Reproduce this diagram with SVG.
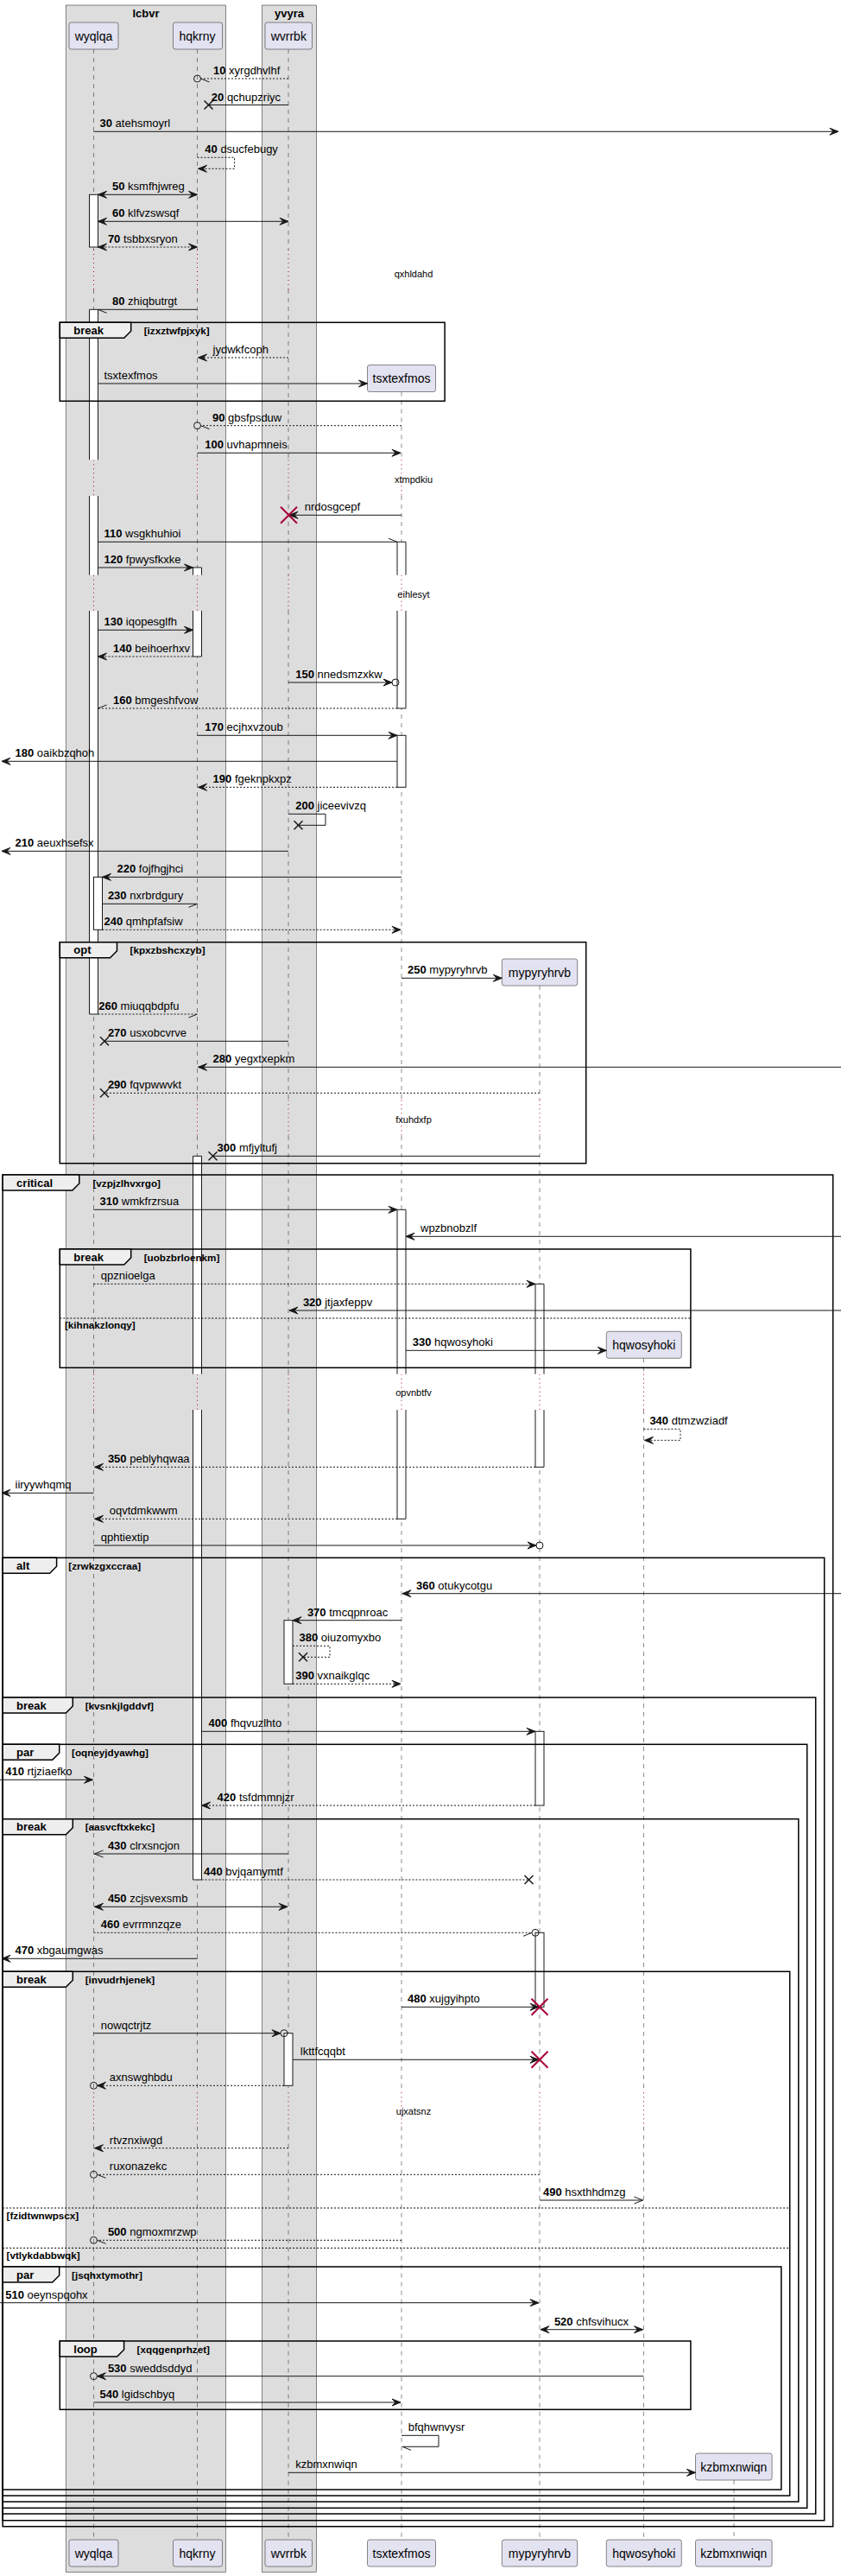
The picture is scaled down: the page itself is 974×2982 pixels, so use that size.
<svg xmlns="http://www.w3.org/2000/svg" width="974" height="2982" viewBox="0 0 974 2982">
<style>
.gb{fill:#DDDDDD;stroke:#181818;stroke-width:0.5}
.bt{font-family:"Liberation Sans",Arial,sans-serif;font-size:13px;font-weight:bold;text-anchor:middle;fill:#000}
.pb{fill:#E2E2F0;stroke:#181818;stroke-width:0.5}
.pn{font-family:"Liberation Sans",Arial,sans-serif;font-size:14px;text-anchor:middle;fill:#000}
.ll{fill:none;stroke:#181818;stroke-width:0.5;stroke-dasharray:5 5}
.dl{fill:none;stroke:#A80036;stroke-width:1;stroke-dasharray:1 4}
.dtx{font-family:"Liberation Sans",Arial,sans-serif;font-size:11px;text-anchor:middle;fill:#000}
.act{fill:#fff;stroke:#181818;stroke-width:1}
.actf{fill:#fff;stroke:none}
.acte{fill:none;stroke:#181818;stroke-width:1}
.fr{fill:none;stroke:#000;stroke-width:1.5}
.tab{fill:#EEEEEE;stroke:#000;stroke-width:1.5}
.tl{font-family:"Liberation Sans",Arial,sans-serif;font-size:13px;font-weight:bold;fill:#000}
.gl{font-family:"Liberation Sans",Arial,sans-serif;font-size:11.7px;font-weight:bold;fill:#000}
.els{stroke:#000;stroke-width:1;stroke-dasharray:2 2}
.ln{fill:none;stroke:#181818;stroke-width:1}
.dt{stroke-dasharray:2 2}
.m{font-family:"Liberation Sans",Arial,sans-serif;font-size:13px;fill:#000}
.n{font-weight:bold}
.x{stroke:#181818;stroke-width:1.5;fill:none}
.rx{stroke:#A80036;stroke-width:2;fill:none}
.cir{fill:none;stroke:#181818;stroke-width:1}
</style>
<defs>
<marker id="af" markerUnits="userSpaceOnUse" orient="auto-start-reverse" overflow="visible" markerWidth="1" markerHeight="1" refX="0" refY="0"><path d="M-10,-4 L0,0 L-10,4 L-6,0 Z" fill="#181818" stroke="#181818" stroke-width="1"/></marker>
<marker id="ao" markerUnits="userSpaceOnUse" orient="auto-start-reverse" overflow="visible" markerWidth="1" markerHeight="1" refX="0" refY="0"><path d="M-10,-4 L0,0 L-10,4" fill="none" stroke="#181818" stroke-width="1"/></marker>
<marker id="hA" markerUnits="userSpaceOnUse" orient="auto" overflow="visible" markerWidth="1" markerHeight="1" refX="0" refY="0"><path d="M-10,-4 L0,0" fill="none" stroke="#181818" stroke-width="1"/></marker>
<marker id="hB" markerUnits="userSpaceOnUse" orient="auto" overflow="visible" markerWidth="1" markerHeight="1" refX="0" refY="0"><path d="M-10,4 L0,0" fill="none" stroke="#181818" stroke-width="1"/></marker>
</defs>
<rect width="974" height="2982" fill="#fff"/>
<g id="box-lcbvr"><rect class="gb" x="76.2" y="6" width="185.4" height="2971.7"/><text class="bt" x="169" y="20">lcbvr</text></g>
<g id="box-yvyra"><rect class="gb" x="303.5" y="6" width="63" height="2971.7"/><text class="bt" x="335" y="20">yvyra</text></g>

<g id="lifelines">
<path class="ll" d="M108.5,57V289M108.5,335V532.3M108.5,574V665.7M108.5,707V1273.3M108.5,1315V1590.7M108.5,1632V2422.3M108.5,2461.7V2940"/>
<path class="ll" d="M228.5,57V289M228.5,335V532.3M228.5,574V665.7M228.5,707V1273.3M228.5,1315V1590.7M228.5,1632V2422.3M228.5,2461.7V2940"/>
<path class="ll" d="M334,57V289M334,335V532.3M334,574V665.7M334,707V1273.3M334,1315V1590.7M334,1632V2422.3M334,2461.7V2940"/>
<path class="ll" d="M465,453.5V532.3M465,574V665.7M465,707V1273.3M465,1315V1590.7M465,1632V2422.3M465,2461.7V2940"/>
<path class="ll" d="M625,1141V1273.3M625,1315V1590.7M625,1632V2422.3M625,2461.7V2940"/>
<path class="ll" d="M745.5,1572.3V1590.7M745.5,1632V2422.3M745.5,2461.7V2940"/>
<path class="ll" d="M850,2871V2940"/>
<path class="dl" d="M108.5,289V335M108.5,532.3V574M108.5,665.7V707M108.5,1273.3V1315M108.5,1590.7V1632M108.5,2422.3V2461.7"/>
<path class="dl" d="M228.5,289V335M228.5,532.3V574M228.5,665.7V707M228.5,1273.3V1315M228.5,1590.7V1632M228.5,2422.3V2461.7"/>
<path class="dl" d="M334,289V335M334,532.3V574M334,665.7V707M334,1273.3V1315M334,1590.7V1632M334,2422.3V2461.7"/>
<path class="dl" d="M465,532.3V574M465,665.7V707M465,1273.3V1315M465,1590.7V1632M465,2422.3V2461.7"/>
<path class="dl" d="M625,1273.3V1315M625,1590.7V1632M625,2422.3V2461.7"/>
<path class="dl" d="M745.5,1590.7V1632M745.5,2422.3V2461.7"/>
</g>

<g id="delays">
<text class="dtx" x="479" y="320.5">qxhldahd</text>
<text class="dtx" x="479" y="558.5">xtmpdkiu</text>
<text class="dtx" x="479" y="691.7">eihlesyt</text>
<text class="dtx" x="479" y="1299.7">fxuhdxfp</text>
<text class="dtx" x="479" y="1616.3">opvnbtfv</text>
<text class="dtx" x="479" y="2448.3">ujxatsnz</text>
</g>

<g id="activations">
<rect class="act" x="103.5" y="225.3" width="10" height="60.7"/>
<rect class="actf" x="103.5" y="358.3" width="10" height="174"/><path class="acte" d="M103.5,532.3V358.3H113.5V532.3"/>
<rect class="actf" x="103.5" y="574" width="10" height="91.7"/><path class="acte" d="M103.5,574V665.7M113.5,574V665.7"/>
<rect class="actf" x="103.5" y="707" width="10" height="467"/><path class="acte" d="M103.5,707V1174H113.5V707"/>
<rect class="act" x="108.5" y="1015.3" width="10" height="61"/>
<rect class="actf" x="223.5" y="657" width="10" height="8.7"/><path class="acte" d="M223.5,665.7V657H233.5V665.7"/>
<rect class="actf" x="223.5" y="707" width="10" height="53"/><path class="acte" d="M223.5,707V760H233.5V707"/>
<rect class="actf" x="223.5" y="1338.3" width="10" height="252.4"/><path class="acte" d="M223.5,1590.7V1338.3H233.5V1590.7"/>
<rect class="actf" x="223.5" y="1632" width="10" height="544"/><path class="acte" d="M223.5,1632V2176H233.5V1632"/>
<rect class="act" x="329" y="1875.7" width="10" height="73.6"/>
<rect class="act" x="329" y="2353.7" width="10" height="60.6"/>
<rect class="actf" x="460" y="627.3" width="10" height="38.4"/><path class="acte" d="M460,665.7V627.3H470V665.7"/>
<rect class="actf" x="460" y="707" width="10" height="113"/><path class="acte" d="M460,707V820H470V707"/>
<rect class="act" x="460" y="851.3" width="10" height="60"/>
<rect class="actf" x="460" y="1400.3" width="10" height="190.4"/><path class="acte" d="M460,1590.7V1400.3H470V1590.7"/>
<rect class="actf" x="460" y="1632" width="10" height="126.3"/><path class="acte" d="M460,1632V1758.3H470V1632"/>
<rect class="actf" x="620" y="1486.3" width="10" height="104.4"/><path class="acte" d="M620,1590.7V1486.3H630V1590.7"/>
<rect class="actf" x="620" y="1632" width="10" height="66.3"/><path class="acte" d="M620,1632V1698.3H630V1632"/>
<rect class="act" x="620" y="2004.3" width="10" height="85.7"/>
<rect class="act" x="620" y="2237.3" width="10" height="86"/>
</g>

<g id="f-break-izxztwfpjxyk"><rect class="fr" x="69.3" y="373.3" width="445.8" height="91"/><polygon class="tab" points="69.3,373.3 151.7,373.3 151.7,383.3 143.7,391.3 69.3,391.3"/><text class="tl" x="85.3" y="387">break</text><text class="gl" x="166.7" y="387">[izxztwfpjxyk]</text></g>
<g id="f-opt-kpxzbshcxzyb"><rect class="fr" x="69.3" y="1090.7" width="609.4" height="256"/><polygon class="tab" points="69.3,1090.7 135.5,1090.7 135.5,1100.7 127.5,1108.7 69.3,1108.7"/><text class="tl" x="85.3" y="1104.4">opt</text><text class="gl" x="150.5" y="1104.4">[kpxzbshcxzyb]</text></g>
<g id="f-critical-vzpjzlhvxrgo"><rect class="fr" x="3.1" y="1360" width="961.6" height="1564.7"/><polygon class="tab" points="3.1,1360 91.8,1360 91.8,1370 83.8,1378 3.1,1378"/><text class="tl" x="19.1" y="1373.7">critical</text><text class="gl" x="107.4" y="1373.7">[vzpjzlhvxrgo]</text></g>
<g id="f-break-uobzbrloenkm"><rect class="fr" x="69.3" y="1446" width="730.6" height="137.3"/><polygon class="tab" points="69.3,1446 151.7,1446 151.7,1456 143.7,1464 69.3,1464"/><text class="tl" x="85.3" y="1459.7">break</text><text class="gl" x="166.7" y="1459.7">[uobzbrloenkm]</text><line class="els" x1="69.3" y1="1526" x2="799.9" y2="1526"/><text class="gl" x="74.9" y="1538">[kihnakzlonqy]</text></g>
<g id="f-alt-zrwkzgxccraa"><rect class="fr" x="3.1" y="1803.3" width="951.6" height="1114.4"/><polygon class="tab" points="3.1,1803.3 65.6,1803.3 65.6,1813.3 57.6,1821.3 3.1,1821.3"/><text class="tl" x="19.1" y="1817">alt</text><text class="gl" x="79.3" y="1817">[zrwkzgxccraa]</text></g>
<g id="f-break-kvsnkjlgddvf"><rect class="fr" x="3.1" y="1965" width="941.6" height="945"/><polygon class="tab" points="3.1,1965 84.3,1965 84.3,1975 76.3,1983 3.1,1983"/><text class="tl" x="19.1" y="1978.7">break</text><text class="gl" x="98.7" y="1978.7">[kvsnkjlgddvf]</text></g>
<g id="f-par-oqneyjdyawhg"><rect class="fr" x="3.1" y="2019.3" width="931.6" height="884"/><polygon class="tab" points="3.1,2019.3 68.7,2019.3 68.7,2029.3 60.7,2037.3 3.1,2037.3"/><text class="tl" x="19.1" y="2033">par</text><text class="gl" x="83" y="2033">[oqneyjdyawhg]</text></g>
<g id="f-break-aasvcftxkekc"><rect class="fr" x="3.1" y="2105.7" width="921.7" height="790.3"/><polygon class="tab" points="3.1,2105.7 84.3,2105.7 84.3,2115.7 76.3,2123.7 3.1,2123.7"/><text class="tl" x="19.1" y="2119.4">break</text><text class="gl" x="98.7" y="2119.4">[aasvcftxkekc]</text></g>
<g id="f-break-invudrhjenek"><rect class="fr" x="3.1" y="2282.3" width="911.6" height="606.7"/><polygon class="tab" points="3.1,2282.3 84.3,2282.3 84.3,2292.3 76.3,2300.3 3.1,2300.3"/><text class="tl" x="19.1" y="2296">break</text><text class="gl" x="98.7" y="2296">[invudrhjenek]</text><line class="els" x1="3.1" y1="2556" x2="914.7" y2="2556"/><text class="gl" x="7.5" y="2569">[fzidtwnwpscx]</text><line class="els" x1="3.1" y1="2602.3" x2="914.7" y2="2602.3"/><text class="gl" x="7.5" y="2615">[vtlykdabbwqk]</text></g>
<g id="f-par-jsqhxtymothr"><rect class="fr" x="3.1" y="2624" width="901.7" height="258"/><polygon class="tab" points="3.1,2624 68.7,2624 68.7,2634 60.7,2642 3.1,2642"/><text class="tl" x="19.1" y="2637.7">par</text><text class="gl" x="83" y="2637.7">[jsqhxtymothr]</text></g>
<g id="f-loop-xqqgenprhzet"><rect class="fr" x="69.3" y="2710" width="730.6" height="79.3"/><polygon class="tab" points="69.3,2710 143.6,2710 143.6,2720 135.6,2728 69.3,2728"/><text class="tl" x="85.3" y="2723.7">loop</text><text class="gl" x="158.6" y="2723.7">[xqqgenprhzet]</text></g>

<g id="p-wyqlqa"><rect class="pb" x="80" y="26" width="57" height="31" rx="2.5"/><text class="pn" x="108.5" y="46.5">wyqlqa</text><rect class="pb" x="80" y="2940" width="57" height="31" rx="2.5"/><text class="pn" x="108.5" y="2960.5">wyqlqa</text></g>
<g id="p-hqkrny"><rect class="pb" x="200.5" y="26" width="57" height="31" rx="2.5"/><text class="pn" x="228.5" y="46.5">hqkrny</text><rect class="pb" x="200.5" y="2940" width="57" height="31" rx="2.5"/><text class="pn" x="228.5" y="2960.5">hqkrny</text></g>
<g id="p-wvrrbk"><rect class="pb" x="307" y="26" width="54.5" height="31" rx="2.5"/><text class="pn" x="334.3" y="46.5">wvrrbk</text><rect class="pb" x="307" y="2940" width="54.5" height="31" rx="2.5"/><text class="pn" x="334.3" y="2960.5">wvrrbk</text></g>
<g id="p-tsxtexfmos"><rect class="pb" x="425.5" y="422.5" width="79" height="31" rx="2.5"/><text class="pn" x="465" y="443">tsxtexfmos</text><rect class="pb" x="425.5" y="2940" width="79" height="31" rx="2.5"/><text class="pn" x="465" y="2960.5">tsxtexfmos</text></g>
<g id="p-mypyryhrvb"><rect class="pb" x="581.3" y="1110" width="87.4" height="31" rx="2.5"/><text class="pn" x="625" y="1130.5">mypyryhrvb</text><rect class="pb" x="581.3" y="2940" width="87.4" height="31" rx="2.5"/><text class="pn" x="625" y="2960.5">mypyryhrvb</text></g>
<g id="p-hqwosyhoki"><rect class="pb" x="702.3" y="1541.3" width="87" height="31" rx="2.5"/><text class="pn" x="745.8" y="1561.8">hqwosyhoki</text><rect class="pb" x="702.3" y="2940" width="87" height="31" rx="2.5"/><text class="pn" x="745.8" y="2960.5">hqwosyhoki</text></g>
<g id="p-kzbmxnwiqn"><rect class="pb" x="805.5" y="2840" width="88.6" height="31" rx="2.5"/><text class="pn" x="849.8" y="2860.5">kzbmxnwiqn</text><rect class="pb" x="805.5" y="2940" width="88.6" height="31" rx="2.5"/><text class="pn" x="849.8" y="2960.5">kzbmxnwiqn</text></g>

<g id="connectors">
<line class="ln dt" x1="334" y1="91" x2="232.5" y2="91" marker-end="url(#hA)"/><circle class="cir" cx="228.5" cy="91" r="4"/>
<text class="m" x="247" y="86"><tspan class="n">10</tspan> xyrgdhvlhf</text>
<line class="ln" x1="334" y1="121.5" x2="241.5" y2="121.5"/><path class="x" d="M236.5,116.5L246.5,126.5M236.5,126.5L246.5,116.5"/>
<text class="m" x="244.8" y="116.5"><tspan class="n">20</tspan> qchupzriyc</text>
<line class="ln" x1="108.5" y1="152.3" x2="971" y2="152.3" marker-end="url(#af)"/>
<text class="m" x="115.5" y="147.3"><tspan class="n">30</tspan> atehsmoyrl</text>
<polyline class="ln dt" points="228.5,182.3 271.5,182.3 271.5,195.3 229.5,195.3" marker-end="url(#af)"/>
<text class="m" x="237.3" y="177.3"><tspan class="n">40</tspan> dsucfebugy</text>
<line class="ln" x1="113.5" y1="225.3" x2="228.5" y2="225.3" marker-start="url(#af)" marker-end="url(#af)"/>
<text class="m" x="130" y="220.3"><tspan class="n">50</tspan> ksmfhjwreg</text>
<line class="ln" x1="113.5" y1="256.3" x2="334" y2="256.3" marker-start="url(#af)" marker-end="url(#af)"/>
<text class="m" x="130" y="251.3"><tspan class="n">60</tspan> klfvzswsqf</text>
<line class="ln dt" x1="113.5" y1="286" x2="228.5" y2="286" marker-start="url(#af)" marker-end="url(#af)"/>
<text class="m" x="124.9" y="281"><tspan class="n">70</tspan> tsbbxsryon</text>
<line class="ln" x1="228.5" y1="358.3" x2="113.5" y2="358.3" marker-end="url(#hA)"/>
<text class="m" x="130" y="353.3"><tspan class="n">80</tspan> zhiqbutrgt</text>
<line class="ln dt" x1="334" y1="414" x2="229.5" y2="414" marker-end="url(#af)"/>
<text class="m" x="246.6" y="409">jydwkfcoph</text>
<line class="ln" x1="113.5" y1="444" x2="425.5" y2="444" marker-end="url(#af)"/>
<text class="m" x="120.5" y="439">tsxtexfmos</text>
<line class="ln dt" x1="465" y1="492.7" x2="232.5" y2="492.7" marker-end="url(#hA)"/><circle class="cir" cx="228.5" cy="492.7" r="4"/>
<text class="m" x="246" y="487.7"><tspan class="n">90</tspan> gbsfpsduw</text>
<line class="ln" x1="228.5" y1="524.3" x2="464" y2="524.3" marker-end="url(#af)"/>
<text class="m" x="237.3" y="519.3"><tspan class="n">100</tspan> uvhapmneis</text>
<line class="ln" x1="465" y1="596.3" x2="335" y2="596.3" marker-end="url(#af)"/><path class="rx" d="M325,586.8L344,605.8M325,605.8L344,586.8"/>
<text class="m" x="352.8" y="591.3">nrdosgcepf</text>
<line class="ln" x1="113.5" y1="627.3" x2="460" y2="627.3" marker-end="url(#hA)"/>
<text class="m" x="120.5" y="622.3"><tspan class="n">110</tspan> wsgkhuhioi</text>
<line class="ln" x1="113.5" y1="657" x2="223.5" y2="657" marker-end="url(#af)"/>
<text class="m" x="120.5" y="652"><tspan class="n">120</tspan> fpwysfkxke</text>
<line class="ln" x1="113.5" y1="729.3" x2="223.5" y2="729.3" marker-end="url(#af)"/>
<text class="m" x="120.5" y="724.3"><tspan class="n">130</tspan> iqopesglfh</text>
<line class="ln dt" x1="223.5" y1="760" x2="113.5" y2="760" marker-end="url(#af)"/>
<text class="m" x="131" y="755"><tspan class="n">140</tspan> beihoerhxv</text>
<line class="ln" x1="334" y1="790" x2="454" y2="790" marker-end="url(#af)"/><circle class="cir" cx="458" cy="790" r="4"/>
<text class="m" x="342.2" y="785"><tspan class="n">150</tspan> nnedsmzxkw</text>
<line class="ln dt" x1="460" y1="820" x2="113.5" y2="820" marker-end="url(#hB)"/>
<text class="m" x="131" y="815"><tspan class="n">160</tspan> bmgeshfvow</text>
<line class="ln" x1="228.5" y1="851.3" x2="460" y2="851.3" marker-end="url(#af)"/>
<text class="m" x="237.3" y="846.3"><tspan class="n">170</tspan> ecjhxvzoub</text>
<line class="ln" x1="460" y1="881.3" x2="2" y2="881.3" marker-end="url(#af)"/>
<text class="m" x="17.5" y="876.3"><tspan class="n">180</tspan> oaikbzqhoh</text>
<line class="ln dt" x1="460" y1="911.3" x2="229.5" y2="911.3" marker-end="url(#af)"/>
<text class="m" x="246.6" y="906.3"><tspan class="n">190</tspan> fgeknpkxpz</text>
<polyline class="ln" points="334,942.3 377,942.3 377,955.3 345.5,955.3"/><path class="x" d="M340.5,950.3L350.5,960.3M340.5,960.3L350.5,950.3"/>
<text class="m" x="342.2" y="937.3"><tspan class="n">200</tspan> jiceevivzq</text>
<line class="ln" x1="334" y1="985.3" x2="2" y2="985.3" marker-end="url(#af)"/>
<text class="m" x="17.5" y="980.3"><tspan class="n">210</tspan> aeuxhsefsx</text>
<line class="ln" x1="465" y1="1015.3" x2="118.5" y2="1015.3" marker-end="url(#af)"/>
<text class="m" x="135.5" y="1010.3"><tspan class="n">220</tspan> fojfhgjhci</text>
<line class="ln" x1="118.5" y1="1046.3" x2="228.5" y2="1046.3" marker-end="url(#hB)"/>
<text class="m" x="124.9" y="1041.3"><tspan class="n">230</tspan> nxrbrdgury</text>
<line class="ln dt" x1="118.5" y1="1076.3" x2="464" y2="1076.3" marker-end="url(#af)"/>
<text class="m" x="120.5" y="1071.3"><tspan class="n">240</tspan> qmhpfafsiw</text>
<line class="ln" x1="465" y1="1132.3" x2="581.3" y2="1132.3" marker-end="url(#af)"/>
<text class="m" x="472" y="1127.3"><tspan class="n">250</tspan> mypyryhrvb</text>
<line class="ln dt" x1="113.5" y1="1174" x2="228.5" y2="1174" marker-end="url(#hB)"/>
<text class="m" x="114.3" y="1169"><tspan class="n">260</tspan> miuqqbdpfu</text>
<line class="ln" x1="334" y1="1205.3" x2="121" y2="1205.3"/><path class="x" d="M116,1200.3L126,1210.3M116,1210.3L126,1200.3"/>
<text class="m" x="124.9" y="1200.3"><tspan class="n">270</tspan> usxobcvrve</text>
<line class="ln" x1="974" y1="1235.3" x2="229.5" y2="1235.3" marker-end="url(#af)"/>
<text class="m" x="246.6" y="1230.3"><tspan class="n">280</tspan> yegxtxepkm</text>
<line class="ln dt" x1="625" y1="1265.3" x2="121" y2="1265.3"/><path class="x" d="M116,1260.3L126,1270.3M116,1270.3L126,1260.3"/>
<text class="m" x="124.9" y="1260.3"><tspan class="n">290</tspan> fqvpwwvkt</text>
<line class="ln" x1="625" y1="1338.3" x2="246.5" y2="1338.3"/><path class="x" d="M241.5,1333.3L251.5,1343.3M241.5,1343.3L251.5,1333.3"/>
<text class="m" x="251.6" y="1333.3"><tspan class="n">300</tspan> mfjyltufj</text>
<line class="ln" x1="108.5" y1="1400.3" x2="460" y2="1400.3" marker-end="url(#af)"/>
<text class="m" x="115.5" y="1395.3"><tspan class="n">310</tspan> wmkfrzrsua</text>
<line class="ln" x1="974" y1="1431.3" x2="470" y2="1431.3" marker-end="url(#af)"/>
<text class="m" x="487" y="1426.3">wpzbnobzlf</text>
<line class="ln dt" x1="108.5" y1="1486.3" x2="620" y2="1486.3" marker-end="url(#af)"/>
<text class="m" x="116.8" y="1481.3">qpznioelga</text>
<line class="ln" x1="974" y1="1517" x2="335" y2="1517" marker-end="url(#af)"/>
<text class="m" x="350.9" y="1512"><tspan class="n">320</tspan> jtjaxfeppv</text>
<line class="ln" x1="470" y1="1563.3" x2="702.3" y2="1563.3" marker-end="url(#af)"/>
<text class="m" x="477.7" y="1558.3"><tspan class="n">330</tspan> hqwosyhoki</text>
<polyline class="ln dt" points="745.5,1654.3 788,1654.3 788,1667.3 746.5,1667.3" marker-end="url(#af)"/>
<text class="m" x="752.4" y="1649.3"><tspan class="n">340</tspan> dtmzwziadf</text>
<line class="ln dt" x1="620" y1="1698.3" x2="109.5" y2="1698.3" marker-end="url(#af)"/>
<text class="m" x="124.9" y="1693.3"><tspan class="n">350</tspan> peblyhqwaa</text>
<line class="ln" x1="108.5" y1="1728.3" x2="2" y2="1728.3" marker-end="url(#af)"/>
<text class="m" x="17.5" y="1723.3">iiryywhqmq</text>
<line class="ln dt" x1="460" y1="1758.3" x2="109.5" y2="1758.3" marker-end="url(#af)"/>
<text class="m" x="126.8" y="1753.3">oqvtdmkwwm</text>
<line class="ln" x1="108.5" y1="1789" x2="621" y2="1789" marker-end="url(#af)"/><circle class="cir" cx="625" cy="1789" r="4"/>
<text class="m" x="116.8" y="1784">qphtiextip</text>
<line class="ln" x1="974" y1="1844.7" x2="466" y2="1844.7" marker-end="url(#af)"/>
<text class="m" x="482" y="1839.7"><tspan class="n">360</tspan> otukycotgu</text>
<line class="ln" x1="465" y1="1875.7" x2="339" y2="1875.7" marker-end="url(#af)"/>
<text class="m" x="355.9" y="1870.7"><tspan class="n">370</tspan> tmcqpnroac</text>
<polyline class="ln dt" points="339,1905.3 382,1905.3 382,1918.3 351,1918.3"/><path class="x" d="M346,1913.3L356,1923.3M346,1923.3L356,1913.3"/>
<text class="m" x="346.5" y="1900.3"><tspan class="n">380</tspan> oiuzomyxbo</text>
<line class="ln dt" x1="339" y1="1949.3" x2="464" y2="1949.3" marker-end="url(#af)"/>
<text class="m" x="342.2" y="1944.3"><tspan class="n">390</tspan> vxnaikglqc</text>
<line class="ln" x1="233.5" y1="2004.3" x2="620" y2="2004.3" marker-end="url(#af)"/>
<text class="m" x="241.6" y="1999.3"><tspan class="n">400</tspan> fhqvuzlhto</text>
<line class="ln" x1="0" y1="2060.3" x2="107.5" y2="2060.3" marker-end="url(#af)"/>
<text class="m" x="6.2" y="2055.3"><tspan class="n">410</tspan> rtjziaefko</text>
<line class="ln dt" x1="620" y1="2090" x2="233.5" y2="2090" marker-end="url(#af)"/>
<text class="m" x="251.6" y="2085"><tspan class="n">420</tspan> tsfdmmnjzr</text>
<line class="ln" x1="334" y1="2146" x2="109.5" y2="2146" marker-end="url(#ao)"/>
<text class="m" x="124.9" y="2141"><tspan class="n">430</tspan> clrxsncjon</text>
<line class="ln dt" x1="233.5" y1="2176" x2="612.5" y2="2176"/><path class="x" d="M607.5,2171L617.5,2181M607.5,2181L617.5,2171"/>
<text class="m" x="236" y="2171"><tspan class="n">440</tspan> bvjqamymtf</text>
<line class="ln" x1="109.5" y1="2207.3" x2="333" y2="2207.3" marker-start="url(#af)" marker-end="url(#af)"/>
<text class="m" x="124.9" y="2202.3"><tspan class="n">450</tspan> zcjsvexsmb</text>
<line class="ln dt" x1="108.5" y1="2237.3" x2="616" y2="2237.3" marker-end="url(#hB)"/><circle class="cir" cx="620" cy="2237.3" r="4"/>
<text class="m" x="116.8" y="2232.3"><tspan class="n">460</tspan> evrrmnzqze</text>
<line class="ln" x1="228.5" y1="2267.3" x2="2" y2="2267.3" marker-end="url(#af)"/>
<text class="m" x="17.5" y="2262.3"><tspan class="n">470</tspan> xbgaumgwas</text>
<line class="ln" x1="465" y1="2323.3" x2="624" y2="2323.3" marker-end="url(#af)"/><path class="rx" d="M615.5,2313.8L634.5,2332.8M615.5,2332.8L634.5,2313.8"/>
<text class="m" x="472" y="2318.3"><tspan class="n">480</tspan> xujgyihpto</text>
<line class="ln" x1="108.5" y1="2353.7" x2="325" y2="2353.7" marker-end="url(#af)"/><circle class="cir" cx="329" cy="2353.7" r="4"/>
<text class="m" x="116.8" y="2348.7">nowqctrjtz</text>
<line class="ln" x1="339" y1="2384.3" x2="624" y2="2384.3" marker-end="url(#af)"/><path class="rx" d="M615.5,2374.8L634.5,2393.8M615.5,2393.8L634.5,2374.8"/>
<text class="m" x="347.8" y="2379.3">lkttfcqqbt</text>
<line class="ln dt" x1="329" y1="2414.3" x2="112.5" y2="2414.3" marker-end="url(#af)"/><circle class="cir" cx="108.5" cy="2414.3" r="4"/>
<text class="m" x="126.8" y="2409.3">axnswghbdu</text>
<line class="ln dt" x1="334" y1="2486.7" x2="109.5" y2="2486.7" marker-end="url(#af)"/>
<text class="m" x="126.8" y="2481.7">rtvznxiwgd</text>
<line class="ln dt" x1="625" y1="2517.3" x2="112.5" y2="2517.3" marker-end="url(#hA)"/><circle class="cir" cx="108.5" cy="2517.3" r="4"/>
<text class="m" x="126.8" y="2512.3">ruxonazekc</text>
<line class="ln" x1="625" y1="2547" x2="744.5" y2="2547" marker-end="url(#ao)"/>
<text class="m" x="629" y="2542"><tspan class="n">490</tspan> hsxthhdmzg</text>
<line class="ln dt" x1="465" y1="2593.3" x2="112.5" y2="2593.3" marker-end="url(#hA)"/><circle class="cir" cx="108.5" cy="2593.3" r="4"/>
<text class="m" x="124.9" y="2588.3"><tspan class="n">500</tspan> ngmoxmrzwp</text>
<line class="ln" x1="0" y1="2665.7" x2="624" y2="2665.7" marker-end="url(#af)"/>
<text class="m" x="6.2" y="2660.7"><tspan class="n">510</tspan> oeynspqohx</text>
<line class="ln" x1="626" y1="2696.7" x2="744.5" y2="2696.7" marker-start="url(#af)" marker-end="url(#af)"/>
<text class="m" x="641.9" y="2691.7"><tspan class="n">520</tspan> chfsvihucx</text>
<line class="ln" x1="745.5" y1="2750.7" x2="112.5" y2="2750.7" marker-end="url(#af)"/><circle class="cir" cx="108.5" cy="2750.7" r="4"/>
<text class="m" x="124.9" y="2745.7"><tspan class="n">530</tspan> sweddsddyd</text>
<line class="ln" x1="108.5" y1="2781" x2="464" y2="2781" marker-end="url(#af)"/>
<text class="m" x="115.5" y="2776"><tspan class="n">540</tspan> lgidschbyq</text>
<polyline class="ln" points="465,2819.3 508,2819.3 508,2832.3 466,2832.3" marker-end="url(#hA)"/>
<text class="m" x="472.7" y="2814.3">bfqhwnvysr</text>
<line class="ln" x1="334" y1="2862.3" x2="805.5" y2="2862.3" marker-end="url(#af)"/>
<text class="m" x="342.2" y="2857.3">kzbmxnwiqn</text>
</g>
</svg>
